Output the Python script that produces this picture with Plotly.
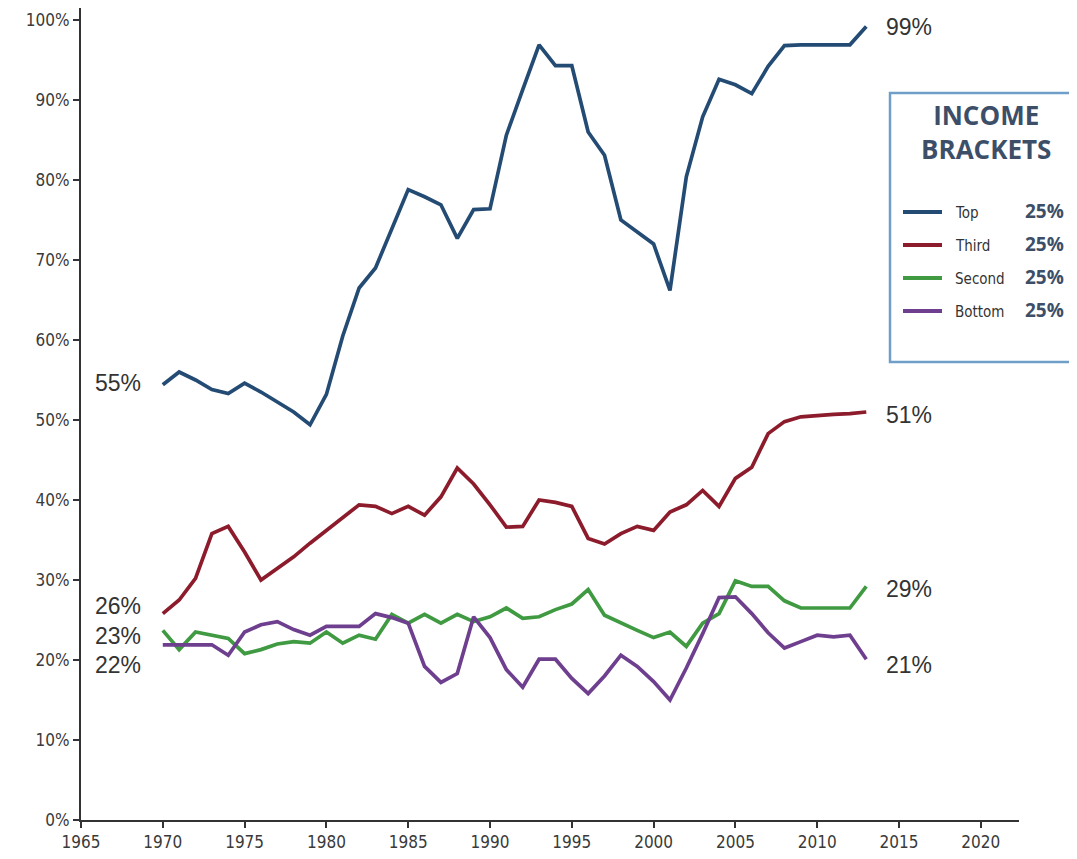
import plotly.graph_objects as go

years = list(range(1970, 2014))

top = [54.4, 56.0, 55.0, 53.8, 53.3, 54.6, 53.5, 52.3, 51.0, 49.4,
       53.2, 60.5, 66.5, 69.0, 74.0, 78.8, 77.9, 76.9, 72.7, 76.3,
       76.4, 85.6, 91.3, 96.9, 94.3, 94.3, 86.0, 83.1, 75.0, 73.5,
       72.0, 66.2, 80.4, 87.9, 92.6, 91.9, 90.8, 94.2, 96.8, 96.9,
       96.9, 96.9, 96.9, 99.2]

third = [25.8, 27.5, 30.2, 35.8, 36.7, 33.5, 30.0, 31.5, 32.9, 34.6,
         36.2, 37.7, 39.4, 39.2, 38.3, 39.2, 38.1, 40.4, 44.0, 42.0,
         39.4, 36.6, 36.7, 40.0, 39.7, 39.2, 35.2, 34.5, 35.8, 36.7,
         36.2, 38.5, 39.4, 41.2, 39.2, 42.7, 44.1, 48.3, 49.8, 50.4,
         50.6, 50.7, 50.8, 51.0]

second = [23.7, 21.3, 23.5, 23.1, 22.7, 20.8, 21.3, 22.0, 22.3, 22.1,
          23.5, 22.1, 23.1, 22.6, 25.7, 24.6, 25.7, 24.6, 25.7, 24.8,
          25.4, 26.5, 25.2, 25.4, 26.3, 27.0, 28.8, 25.6, 24.6, 23.7,
          22.8, 23.5, 21.7, 24.6, 25.8, 29.9, 29.2, 29.2, 27.4, 26.5,
          26.5, 26.5, 26.5, 29.2]

bottom = [21.9, 21.9, 21.9, 21.9, 20.6, 23.5, 24.4, 24.8, 23.8, 23.1,
          24.2, 24.2, 24.2, 25.8, 25.3, 24.6, 19.2, 17.2, 18.3, 25.4,
          22.8, 18.8, 16.6, 20.1, 20.1, 17.7, 15.8, 18.0, 20.6, 19.2,
          17.3, 15.0, 19.0, 23.3, 27.8, 27.9, 25.8, 23.4, 21.5, 22.3,
          23.1, 22.9, 23.1, 20.1]

series_names = ["Top", "Third", "Second", "Bottom"]
series_values = [top, third, second, bottom]
series_colors = ["#234b73", "#8c1c2c", "#3f9a42", "#6e3f8e"]
legend_shares = ["25%", "25%", "25%", "25%"]

start_labels = ["55%", "26%", "23%", "22%"]
end_labels = ["99%", "51%", "29%", "21%"]

x_ticks = list(range(1965, 2021, 5))
y_ticks = list(range(0, 101, 10))
y_tick_text = [f"{v}%" for v in y_ticks]

# page offset (browser body margin)
OFF = 8
W, H = 1077 - OFF, 859 - OFF
# plot area in page pixels
PL, PR, PT, PB = 81, 1019, OFF, 820
L, R, T, B = PL - OFF, PR - OFF, PT - OFF, PB - OFF
PX_PER_YEAR = 16.36
PX_PER_PCT = 8.0


def px(x):
    return (x - PL) / (PR - PL)


def py(y):
    return (PB - y) / (PB - PT)


fig = go.Figure()
for name, vals, col in zip(series_names, series_values, series_colors):
    fig.add_trace(go.Scatter(x=years, y=vals, mode="lines", name=name,
                             line=dict(color=col, width=3.7),
                             showlegend=False, hoverinfo="x+y"))

ann = []
lbl_font = dict(family="Liberation Sans, Arial, sans-serif", size=23, color="#333333")
start_pos_y = [383, 606, 636, 665]
end_pos_y = [27, 415, 589, 665]
for t, yy in zip(start_labels, start_pos_y):
    ann.append(dict(x=px(118), y=py(yy), xref="paper", yref="paper", text=t,
                    showarrow=False, xanchor="center", yanchor="middle", font=lbl_font))
for t, yy in zip(end_labels, end_pos_y):
    ann.append(dict(x=px(884), y=py(yy), xref="paper", yref="paper", text=t,
                    showarrow=False, xanchor="left", yanchor="middle", font=lbl_font))

# Legend box
shapes = [dict(type="rect", xref="paper", yref="paper",
               x0=px(890), x1=px(1085), y0=py(362), y1=py(93),
               line=dict(color="#6f9fc8", width=2.5), fillcolor="white", layer="above")]
title_font = dict(family="Open Sans, sans-serif", size=26, color="#3d4f68")
ann.append(dict(x=px(986), y=py(132), xref="paper", yref="paper",
                text="<b>INCOME<br>BRACKETS</b>", showarrow=False, xanchor="center",
                yanchor="middle", align="center", font=title_font))
entry_y = [212, 245, 278, 311]
for name, col, share, ey in zip(series_names, series_colors, legend_shares, entry_y):
    shapes.append(dict(type="line", xref="paper", yref="paper",
                       x0=px(903), x1=px(942), y0=py(ey), y1=py(ey),
                       line=dict(color=col, width=4), layer="above"))
    ann.append(dict(x=px(953), y=py(ey + 1), xref="paper", yref="paper", text=name,
                    showarrow=False, xanchor="left", yanchor="middle",
                    font=dict(family="DejaVu Sans Condensed, Liberation Sans Narrow, sans-serif",
                              size=15, color="#333333")))
    ann.append(dict(x=px(1023), y=py(ey - 1), xref="paper", yref="paper",
                    text=f"<b>{share}</b>", showarrow=False, xanchor="left",
                    yanchor="middle",
                    font=dict(family="Open Sans, sans-serif", size=19, color="#3d4f68")))

tick_font = dict(family="DejaVu Sans Condensed, Liberation Sans Narrow, sans-serif",
                 size=17, color="#3a3a3a")
fig.update_layout(
    width=W, height=H,
    margin=dict(l=L, r=W - R, t=T, b=H - B, autoexpand=False),
    plot_bgcolor="white", paper_bgcolor="white",
    xaxis=dict(range=[1965, 1965 + (PR - PL) / PX_PER_YEAR], tickvals=x_ticks,
               showgrid=False, zeroline=False, showline=True,
               linecolor="#333333", linewidth=2, ticks="outside", ticklen=6,
               tickcolor="#333333", tickwidth=1.5, tickfont=tick_font),
    yaxis=dict(range=[0, (PB - PT) / PX_PER_PCT], tickvals=y_ticks, ticktext=y_tick_text,
               showgrid=False, zeroline=False, showline=True,
               linecolor="#333333", linewidth=2, ticks="outside", ticklen=6,
               tickcolor="#333333", tickwidth=1.5, tickfont=tick_font),
    annotations=ann, shapes=shapes,
)

fig.write_html("out.html")
